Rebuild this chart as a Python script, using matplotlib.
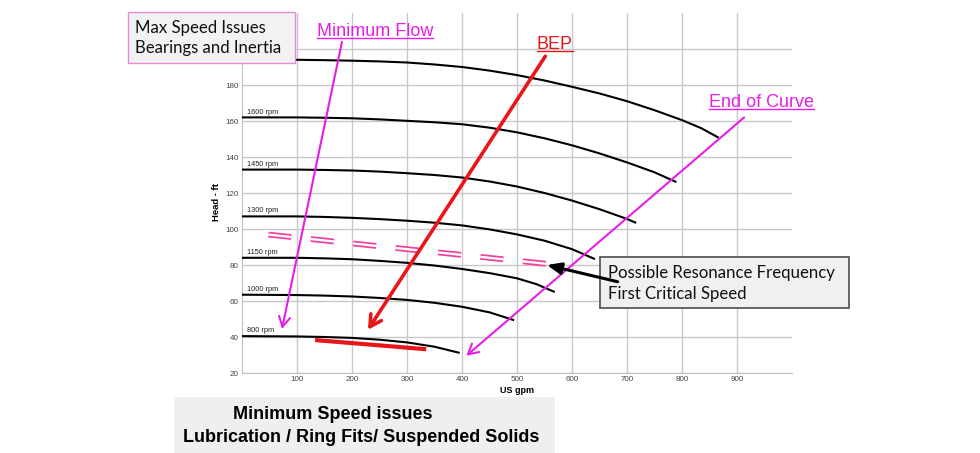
import matplotlib.pyplot as plt
from matplotlib.patches import Rectangle
from matplotlib.lines import Line2D

plt.rcParams['lines.scale_dashes'] = False

# pump curves (US gpm, head ft)
gpm_1750 = [0, 100, 150, 200, 250, 300, 350, 400, 450, 500, 550, 600, 650, 700, 750, 800, 835, 865]
head_1750 = [194, 194, 193.8, 193.5, 193.1, 192.5, 191.4, 190, 188, 185.5, 182.5, 179, 175.3,
             171, 166, 160.5, 156, 151]
gpm_1600 = [0, 100, 150, 200, 250, 300, 350, 400, 450, 500, 550, 600, 650, 700, 750, 788]
head_1600 = [162, 162, 161.8, 161.5, 160.9, 160.1, 159.3, 158.2, 156.3, 153.7, 150.4, 146.5,
             142, 137, 131.5, 126.3]
gpm_1450 = [0, 100, 150, 200, 250, 300, 350, 400, 450, 500, 550, 600, 650, 700, 715]
head_1450 = [133, 133, 132.8, 132.5, 131.9, 131, 130, 128.6, 126.4, 123.6, 120, 115.8, 111,
             105.6, 103.6]
gpm_1300 = [0, 100, 150, 200, 250, 300, 350, 400, 450, 500, 550, 600, 640]
head_1300 = [107, 107, 106.7, 106.2, 105.5, 104.6, 103.5, 102, 99.8, 97, 93.5, 88.8, 83.5]
gpm_1150 = [0, 100, 150, 200, 250, 300, 350, 400, 450, 500, 535, 567]
head_1150 = [84, 84, 83.7, 83.2, 82.3, 81.2, 79.7, 77.8, 75.5, 72.6, 69.4, 65.2]
gpm_1000 = [0, 100, 150, 200, 250, 300, 350, 400, 450, 493]
head_1000 = [63.5, 63.3, 63, 62.5, 61.7, 60.6, 59, 56.8, 53.7, 49.5]
gpm_800 = [0, 100, 150, 200, 250, 300, 350, 394]
head_800 = [40.5, 40.3, 40, 39.5, 38.5, 37, 34.6, 31.3]

curves = [(gpm_1750, head_1750, ''), (gpm_1600, head_1600, '1600 rpm'),
          (gpm_1450, head_1450, '1450 rpm'), (gpm_1300, head_1300, '1300 rpm'),
          (gpm_1150, head_1150, '1150 rpm'), (gpm_1000, head_1000, '1000 rpm'),
          (gpm_800, head_800, '800 rpm')]

x_ticks = [100, 200, 300, 400, 500, 600, 700, 800, 900]
y_ticks = [20, 40, 60, 80, 100, 120, 140, 160, 180, 200]
y_tick_labels = ['20', '40', '60', '80', '100', '120', '140', '160', '180', '']

# annotation marks in chart units
bep_band_gpm = [133, 335]
bep_band_head = [38.3, 33.2]
resonance_gpm = [48, 555]
resonance_head = [96.9, 80.6]
min_flow_arrow = [(181.8, 204), (72.7, 44.5)]
bep_arrow = [(551.5, 196), (229, 44)]
end_curve_arrow = [(913, 162), (408, 29.6)]
resonance_arrow = [(683, 70.7), (554.5, 80)]

magenta = '#e61ee6'
red = '#e8161b'
pink = '#f53ca0'

W, H = 980, 453


def fx(x):
    return x / W


def fy(y):
    return 1 - y / H


fig = plt.figure(figsize=(W / 100, H / 100), dpi=100)
ax = fig.add_axes([fx(242), fy(373), 550 / W, 360 / H])

for g, h, lab in curves:
    ax.plot(g, h, color='black', lw=1.5, zorder=3)
    if lab:
        ax.text(9, h[0] + 3, lab, fontsize=5.3, va='center', ha='left',
                family='Liberation Sans', color='#222222', zorder=3)

ax.plot(bep_band_gpm, bep_band_head, color=red, lw=3, solid_capstyle='butt', zorder=4)

# double dashed resonance line
ax.plot(resonance_gpm, resonance_head, color=pink, lw=4.2, dashes=(16.6, 14.1),
        dash_capstyle='butt', zorder=4)
ax.plot(resonance_gpm, resonance_head, color='white', lw=1.7, dashes=(16.6, 14.1),
        dash_capstyle='butt', zorder=4)

ax.annotate('', xy=min_flow_arrow[1], xytext=min_flow_arrow[0], zorder=5,
            arrowprops=dict(arrowstyle='->,head_length=0.45,head_width=0.25', color=magenta,
                            lw=1.5, mutation_scale=16, shrinkA=0, shrinkB=0))
ax.annotate('', xy=bep_arrow[1], xytext=bep_arrow[0], zorder=5,
            arrowprops=dict(arrowstyle='->,head_length=0.45,head_width=0.25', color=red,
                            lw=2.6, mutation_scale=18, shrinkA=0, shrinkB=0))
ax.annotate('', xy=end_curve_arrow[1], xytext=end_curve_arrow[0], zorder=5,
            arrowprops=dict(arrowstyle='->,head_length=0.45,head_width=0.25', color=magenta,
                            lw=1.5, mutation_scale=16, shrinkA=0, shrinkB=0))
ax.annotate('', xy=resonance_arrow[1], xytext=resonance_arrow[0], zorder=9,
            arrowprops=dict(arrowstyle='-|>,head_length=0.6,head_width=0.25', color='black',
                            lw=2.2, mutation_scale=14, shrinkA=0, shrinkB=0))

ax.set_xlim(0, 1000)
ax.set_ylim(20, 220)
ax.set_xticks(x_ticks)
ax.set_yticks(y_ticks)
ax.set_yticklabels(y_tick_labels)
ax.grid(True, color='#c8c8c8', lw=1)
ax.set_axisbelow(True)
for s in ['top', 'right']:
    ax.spines[s].set_visible(False)
for s in ['left', 'bottom']:
    ax.spines[s].set_color('#c0c0c0')
ax.tick_params(length=0, labelsize=5.8, labelcolor='#444444')
ax.tick_params(axis='x', pad=2)
ax.tick_params(axis='y', pad=2.5)
for t in ax.get_xticklabels() + ax.get_yticklabels():
    t.set_family('Liberation Sans')
ax.set_xlabel('US gpm', fontsize=6.5, fontweight='bold', family='Liberation Sans')
ax.set_ylabel('Head - ft', fontsize=6.8, fontweight='bold', family='Liberation Sans')
ax.xaxis.set_label_coords(0.5, -0.036)
ax.yaxis.set_label_coords(-0.038, 0.475)

# boxes
boxes = [((128.3, 11.7, 295, 62.7), '#f2f2f2', '#e98ad8', 1),
         ((600, 256.7, 849, 308.3), '#f0f0f0', '#5a5a5a', 1.3),
         ((174, 397.3, 555, 453), '#efefef', 'none', 0)]
for (x0, y0, x1, y1), fc, ec, lw in boxes:
    r = Rectangle((fx(x0), fy(y1)), (x1 - x0) / W, (y1 - y0) / H, transform=fig.transFigure,
                  facecolor=fc, edgecolor=ec, lw=lw, zorder=7)
    ax.add_artist(r)
    r.set_clip_on(False)

box_font = 'Lato'
for x, y, s in [(135, 33.3, 'Max Speed Issues'), (135, 53.3, 'Bearings and Inertia'),
                (608, 278.3, 'Possible Resonance Frequency'), (608, 299, 'First Critical Speed')]:
    ax.text(fx(x), fy(y), s, transform=fig.transFigure, fontsize=12.1, family=box_font,
            va='baseline', ha='left', color='#111111', zorder=8, clip_on=False)

for x, y, s in [(233.3, 419.3, 'Minimum Speed issues'),
                (182.7, 441.7, 'Lubrication / Ring Fits/ Suspended Solids')]:
    ax.text(fx(x), fy(y), s, transform=fig.transFigure, fontsize=13, family='Liberation Sans',
            fontweight='bold', va='baseline', ha='left', color='black', zorder=8, clip_on=False)

labels = []
for x, y, s, c in [(316.7, 35.5, 'Minimum Flow', magenta), (536.7, 49, 'BEP', red),
                   (709.3, 106.7, 'End of Curve', magenta)]:
    t = ax.text(fx(x), fy(y), s, transform=fig.transFigure, fontsize=13,
                family='Liberation Sans', va='baseline', ha='left', color=c, zorder=8,
                clip_on=False)
    labels.append((t, y, c))

renderer = fig.canvas.get_renderer()
for t, y, c in labels:
    bb = t.get_window_extent(renderer)
    fig.add_artist(Line2D([bb.x0 / W, bb.x1 / W], [fy(y + 2), fy(y + 2)],
                          transform=fig.transFigure, color=c, lw=1))

plt.savefig('out.png', dpi=100)
